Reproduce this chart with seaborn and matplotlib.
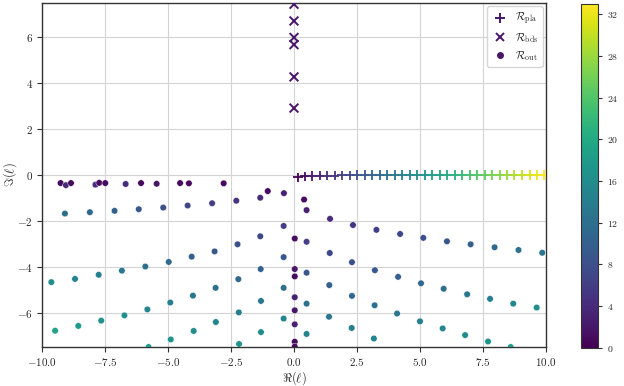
import numpy as np
import pandas as pd
import seaborn as sns
import matplotlib.pyplot as plt
from matplotlib.lines import Line2D
from matplotlib.ticker import FuncFormatter
from matplotlib.cm import ScalarMappable
from matplotlib.colors import Normalize

sns.set_style("whitegrid")
plt.rcParams["mathtext.fontset"] = "cm"
plt.rcParams["font.family"] = ["DejaVu Serif"]

# R_pla : poles on the real axis, coloured by l
pla_l = list(range(34))
pla_x = [0.16, 0.42, 0.72, 1.02, 1.31, 1.61, 1.91, 2.21, 2.50, 2.80, 3.10, 3.40,
         3.69, 3.99, 4.29, 4.59, 4.88, 5.18, 5.48, 5.78, 6.07, 6.37, 6.67, 6.97,
         7.26, 7.56, 7.86, 8.16, 8.45, 8.75, 9.05, 9.35, 9.64, 9.94]
pla_y = [-0.10, -0.06, -0.04, -0.03, -0.02, -0.02, -0.01, -0.01] + [0.0] * 26

# R_bds : bound states on the imaginary axis
bds_x = [0.0, 0.0, 0.0, 0.0, 0.0, 0.0]
bds_y = [7.45, 6.72, 6.00, 5.69, 4.28, 2.92]
bds_l = [2, 2, 2, 2, 2, 2]

# R_out : remaining poles in the lower half plane
out_x = (
    [-9.26, -9.05, -8.85, -7.88, -7.73, -7.49, -6.68, -6.07, -5.45, -4.52, -4.17, -2.79, -1.04]
    + [-0.40, -1.34, -2.29, -3.25, -4.22, -5.19, -6.16, -7.12, -8.10, -9.09]
    + [-0.41, -1.34, -2.24, -3.15, -4.06, -4.97, -5.90, -6.83, -7.75, -8.69, -9.63]
    + [-0.41, -1.32, -2.21, -3.11, -4.01, -4.91, -5.82, -6.73, -7.65, -8.56, -9.48]
    + [-0.41, -1.31, -2.19, -3.10, -3.98, -4.89, -5.77]
    + [-0.41, -1.31, -2.18]
    + [0.03, 0.03, 0.03, 0.03, 0.03, 0.03, 0.03, 0.03]
    + [0.40]
    + [0.50, 1.43, 2.34, 3.27, 4.21, 5.13, 6.07, 7.01, 7.96, 8.91, 9.85]
    + [0.50, 1.42, 2.30, 3.21, 4.13, 5.04, 5.94, 6.87, 7.78, 8.70, 9.63]
    + [0.50, 1.40, 2.30, 3.20, 4.09, 5.00, 5.90, 6.79, 7.70, 8.60]
    + [0.50, 1.39, 2.29, 3.17]
    + [0.50]
)
out_y = (
    [-0.35, -0.44, -0.35, -0.42, -0.34, -0.35, -0.39, -0.35, -0.38, -0.35, -0.36, -0.36, -0.70]
    + [-0.79, -0.99, -1.12, -1.23, -1.33, -1.42, -1.49, -1.56, -1.62, -1.68]
    + [-2.22, -2.67, -3.02, -3.33, -3.56, -3.79, -3.99, -4.17, -4.35, -4.53, -4.67]
    + [-3.58, -4.10, -4.54, -4.92, -5.26, -5.56, -5.86, -6.12, -6.35, -6.58, -6.79]
    + [-4.92, -5.49, -5.99, -6.41, -6.80, -7.17, -7.50]
    + [-6.26, -6.85, -7.37]
    + [-2.77, -4.10, -4.42, -5.33, -5.90, -6.51, -7.27, -7.48]
    + [-1.07]
    + [-1.53, -1.91, -2.18, -2.39, -2.57, -2.74, -2.89, -3.02, -3.15, -3.27, -3.39]
    + [-2.91, -3.40, -3.80, -4.15, -4.44, -4.72, -4.96, -5.20, -5.40, -5.61, -5.78]
    + [-4.26, -4.80, -5.27, -5.68, -6.04, -6.38, -6.69, -6.98, -7.26, -7.50]
    + [-5.61, -6.18, -6.67, -7.13]
    + [-6.93]
)
out_l = (
    [1, 4, 1, 4, 1, 1, 4, 1, 2, 1, 1, 1, 1]
    + [3, 4, 5, 6, 7, 8, 9, 10, 11, 12]
    + [6, 7, 8, 9, 10, 11, 12, 13, 14, 15, 16]
    + [9, 10, 11, 12, 13, 14, 15, 16, 17, 18, 19]
    + [12, 13, 14, 15, 16, 17, 18]
    + [15, 16, 17]
    + [1, 2, 1, 3, 2, 3, 1, 1]
    + [1]
    + [3, 4, 5, 6, 7, 8, 9, 10, 11, 12, 13]
    + [6, 7, 8, 9, 10, 11, 12, 13, 14, 15, 16]
    + [9, 10, 11, 12, 13, 14, 15, 16, 17, 18]
    + [12, 13, 14, 15]
    + [15]
)

lmin, lmax = 0, 33

pla = pd.DataFrame({"x": pla_x, "y": pla_y, "l": pla_l})
bds = pd.DataFrame({"x": bds_x, "y": bds_y, "l": bds_l})
out = pd.DataFrame({"x": out_x, "y": out_y, "l": out_l})

fig = plt.figure(figsize=(6.24, 3.86), dpi=100)
ax = fig.add_axes([0.0673, 0.101, 0.8077, 0.891])
cax = fig.add_axes([0.931, 0.099, 0.027, 0.891])

sns.scatterplot(data=out, x="x", y="y", hue="l", palette="viridis",
                hue_norm=(lmin, lmax), s=22, edgecolor="white", linewidth=0.3,
                legend=False, ax=ax, zorder=3)
sns.scatterplot(data=pla, x="x", y="y", hue="l", palette="viridis",
                hue_norm=(lmin, lmax), marker="+", s=45, linewidth=1.3,
                legend=False, ax=ax, zorder=3)
sns.scatterplot(data=bds, x="x", y="y", hue="l", palette="viridis",
                hue_norm=(lmin, lmax), marker="x", s=40, linewidth=1.4,
                legend=False, ax=ax, zorder=3)

ax.set_xlim(-10, 10)
ax.set_ylim(-7.5, 7.5)
ax.set_xticks([-10, -7.5, -5, -2.5, 0, 2.5, 5, 7.5, 10])
ax.set_yticks([-6, -4, -2, 0, 2, 4, 6])
ax.xaxis.set_major_formatter(FuncFormatter(lambda v, p: r"$%.1f$" % v))
ax.yaxis.set_major_formatter(FuncFormatter(lambda v, p: r"$%d$" % v))
ax.tick_params(axis="both", labelsize=8, length=3.5, width=0.8, color="#333333",
               direction="out", bottom=True, left=True, pad=3)
ax.grid(True, color="#d4d4d4", linewidth=0.8)
for side in ["left", "right", "top", "bottom"]:
    ax.spines[side].set_color("#333333")
    ax.spines[side].set_linewidth(1.0)
ax.set_xlabel(r"$\Re(\ell)$", fontsize=9, labelpad=1)
ax.set_ylabel(r"$\Im(\ell)$", fontsize=9)
ax.yaxis.set_label_coords(-0.045, 0.5)

c0 = plt.cm.viridis(2 / lmax)
handles = [
    Line2D([], [], linestyle="", marker="+", color=c0, markersize=7, markeredgewidth=1.4),
    Line2D([], [], linestyle="", marker="x", color=c0, markersize=6, markeredgewidth=1.4),
    Line2D([], [], linestyle="", marker="o", color=c0, markersize=4),
]
labels = [r"$\mathcal{R}_{\rm pla}$", r"$\mathcal{R}_{\rm bds}$", r"$\mathcal{R}_{\rm out}$"]
leg = ax.legend(handles, labels, loc="upper right", fontsize=8, frameon=True,
                handletextpad=0.5, handlelength=1.6, borderpad=0.4,
                labelspacing=0.35, borderaxespad=0.3, fancybox=True)
leg.get_frame().set_edgecolor("#cccccc")

sm = ScalarMappable(norm=Normalize(lmin, lmax), cmap="viridis")
cb = fig.colorbar(sm, cax=cax, ticks=[0, 4, 8, 12, 16, 20, 24, 28, 32])
cb.ax.yaxis.set_major_formatter(FuncFormatter(lambda v, p: r"$%d$" % v))
cb.ax.tick_params(labelsize=7, length=3, width=0.8, color="#333333")
cb.outline.set_edgecolor("#333333")
cb.outline.set_linewidth(0.8)

fig.savefig("out.png", dpi=100)
